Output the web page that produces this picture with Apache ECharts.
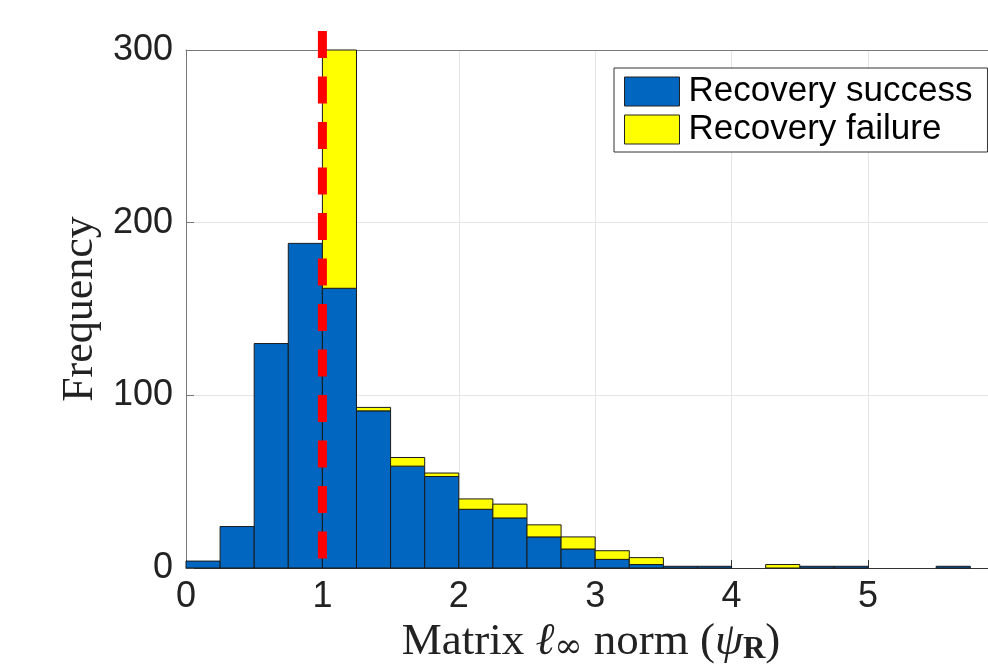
<!DOCTYPE html>
<html>
<head>
<meta charset="utf-8">
<script src="https://cdn.jsdelivr.net/npm/echarts@6/dist/echarts.min.js"></script>
<style>html,body{margin:0;padding:0;background:#fff;}#c{width:988px;height:666px;}</style>
</head>
<body>
<div id="c"></div>
<script>
// Histogram bin edges (width 0.25)
const binEdges = [0,0.25,0.5,0.75,1,1.25,1.5,1.75,2,2.25,2.5,2.75,3,3.25,3.5,3.75,4,4.25,4.5,4.75,5,5.25,5.5,5.75,6];
// Counts per bin
const successCounts = [4,24,130,188,162,91,59,53,34,29,18,11,5,2,1,1,0,0,1,1,0,0,1,0];
const failureCounts = [0,0,0,0,138,2,5,2,6,8,7,7,5,4,0,0,0,2,0,0,0,0,0,0];
// Threshold line
const thresholdX = 1;
const thresholdYRange = [311, 0];
const xTicks = [0,1,2,3,4,5];
const yTicks = [0,100,200,300];
const legendNames = ['Recovery success','Recovery failure'];

const successData = [], failureData = [];
for (let i = 0; i < successCounts.length; i++) {
  successData.push([binEdges[i], binEdges[i+1], 0, successCounts[i]]);
  failureData.push([binEdges[i], binEdges[i+1], successCounts[i], successCounts[i] + failureCounts[i]]);
}

function renderBin(params, api) {
  const y0 = api.value(2), y1 = api.value(3);
  if (y1 <= y0) return null;
  const p0 = api.coord([api.value(0), y0]);
  const p1 = api.coord([api.value(1), y1]);
  return {
    type: 'rect',
    shape: {x: p0[0], y: p1[1], width: p1[0] - p0[0], height: p0[1] - p1[1]},
    style: {fill: api.visual('color'), stroke: '#1a1a1a', lineWidth: 1}
  };
}

const chart = echarts.init(document.getElementById('c'));
chart.setOption({
  animation: false,
  backgroundColor: '#fff',
  grid: {left: 186, top: 50, right: 0, bottom: 98, containLabel: false, outerBoundsMode: 'none'},
  legend: {
    orient: 'vertical', left: 614, top: 68,
    data: legendNames,
    itemWidth: 55, itemHeight: 29, itemGap: 3,
    padding: [6, 15, 5, 10],
    borderColor: '#333', borderWidth: 1, backgroundColor: '#fff',
    icon: 'rect',
    itemStyle: {borderColor: '#222', borderWidth: 1},
    textStyle: {fontFamily: 'Liberation Sans', fontSize: 35, color: '#000', padding: [0,0,0,4]}
  },
  xAxis: [{
    type: 'value', min: 0, max: 5.88, interval: 1,
    axisLine: {lineStyle: {color: '#333', width: 1}},
    axisTick: {inside: true, length: 8, lineStyle: {color: '#333'}},
    axisLabel: {fontFamily: 'Liberation Sans', fontSize: 36, color: '#222', margin: 11, showMaxLabel: false,
      formatter: v => (xTicks.indexOf(v) >= 0 ? String(v) : '')},
    splitLine: {show: true, lineStyle: {color: '#e6e6e6', width: 1}},
    name: 'Matrix {it|ℓ}{sub|∞} norm ({it|ψ}{subb|R})',
    nameLocation: 'middle', nameGap: 50,
    nameTextStyle: {fontFamily: 'Liberation Serif', fontSize: 45, color: '#222', padding: [0,0,0,8],
      rich: {
        it: {fontFamily: 'Liberation Serif', fontStyle: 'italic', fontSize: 45, color: '#222'},
        sub: {fontFamily: 'DejaVu Serif', fontSize: 34, color: '#222', padding: [12,0,0,0]},
        subb: {fontFamily: 'Liberation Serif', fontWeight: 'bold', fontSize: 31, color: '#222', padding: [16,0,0,0]}
      }}
  }, {
    type: 'value', position: 'top', min: 0, max: 5.88,
    axisLine: {show: true, lineStyle: {color: '#777'}},
    axisTick: {show: false}, axisLabel: {show: false}, splitLine: {show: false}
  }],
  yAxis: {
    type: 'value', min: 0, max: 300, interval: 100,
    axisLine: {show: true, lineStyle: {color: '#777', width: 1}},
    axisTick: {show: true, inside: true, length: 8, lineStyle: {color: '#777'}},
    axisLabel: {fontFamily: 'Liberation Sans', fontSize: 36, color: '#222', margin: 13,
      formatter: v => (yTicks.indexOf(v) >= 0 ? String(v) : '')},
    splitLine: {show: true, lineStyle: {color: '#e6e6e6', width: 1}},
    name: 'Frequency', nameLocation: 'middle', nameGap: 84,
    nameTextStyle: {fontFamily: 'Liberation Serif', fontSize: 44, color: '#222'}
  },
  series: [{
    name: legendNames[0], type: 'custom', renderItem: renderBin,
    itemStyle: {color: '#0066bf'},
    encode: {x: [0, 1], y: [2, 3]},
    data: successData, z: 2
  }, {
    name: legendNames[1], type: 'custom', renderItem: renderBin,
    itemStyle: {color: '#ffff00'},
    encode: {x: [0, 1], y: [2, 3]},
    data: failureData, z: 2
  }, {
    type: 'line', clip: false, symbol: 'none', silent: true, z: 5,
    data: [[thresholdX, thresholdYRange[0]], [thresholdX, thresholdYRange[1]]],
    lineStyle: {color: '#ff0000', width: 9, type: [27, 18.5], cap: 'butt'}
  }]
});
</script>
</body>
</html>
